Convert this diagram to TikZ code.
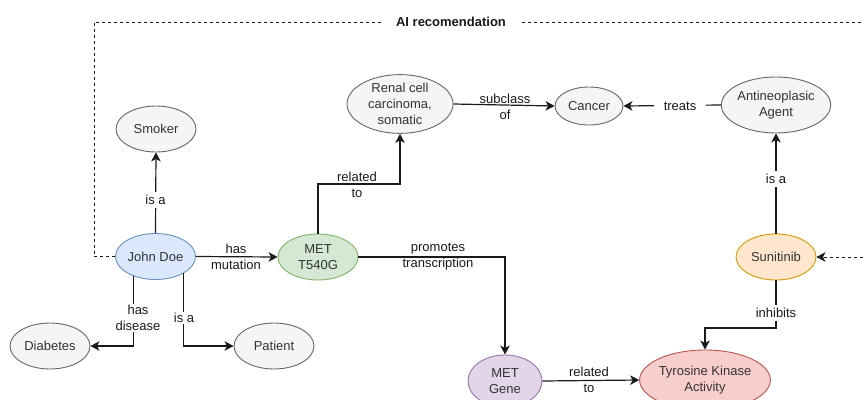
\documentclass[tikz,border=0pt]{standalone}
\usepackage{fontspec}
\setmainfont{Liberation Sans}
\usetikzlibrary{shapes.geometric,arrows.meta}
\definecolor{gfill}{HTML}{F5F5F5}\definecolor{gline}{HTML}{666666}
\definecolor{bfill}{HTML}{DAE8FC}\definecolor{bline}{HTML}{6C8EBF}
\definecolor{grfill}{HTML}{D5E8D4}\definecolor{grline}{HTML}{82B366}
\definecolor{ofill}{HTML}{FFE6CC}\definecolor{oline}{HTML}{D79B00}
\definecolor{pfill}{HTML}{E1D5E7}\definecolor{pline}{HTML}{9673A6}
\definecolor{rfill}{HTML}{F8CECC}\definecolor{rline}{HTML}{B85450}
\definecolor{txt}{HTML}{333333}
\definecolor{edgec}{HTML}{1A1A1A}
\tikzset{
  ell/.style={ellipse,draw=gline,fill=gfill,line width=0.9pt,inner sep=0pt,
    minimum width=80pt,minimum height=46pt,align=center,text=txt,
    font=\fontsize{13}{16}\selectfont},
  lbl/.style={fill=white,inner sep=1pt,align=center,text=edgec,
    font=\fontsize{13}{16}\selectfont},
  lbln/.style={lbl,fill=none},
  rel/.style={draw=edgec,line width=1.2pt,-{Stealth[length=9pt,width=9.5pt,inset=2.5pt]}},
  aidash/.style={draw=edgec,line width=1pt,dash pattern=on 3pt off 3pt,
    -{Stealth[length=9pt,width=9.5pt,inset=2.5pt]}}
}
\begin{document}
\begin{tikzpicture}[x=1pt,y=-1pt]
\useasboundingbox (0,0) rectangle (864,399);
\clip (0,0) rectangle (864,399);
% nodes
\node[ell] (smoker) at (156,129) {Smoker};
\node[ell,fill=bfill,draw=bline] (jd) at (155.5,256.5) {John Doe};
\node[ell,fill=grfill,draw=grline] (met) at (318,257) {MET\\T540G};
\node[ell] (diab) at (50,346) {Diabetes};
\node[ell] (pat) at (274,346) {Patient};
\node[ell,minimum width=106pt,minimum height=56pt] (renal) at (400,104) {Renal cell\\carcinoma,\\somatic};
\node[ell,minimum width=68pt,minimum height=38pt] (cancer) at (589,106) {Cancer};
\node[ell,minimum width=98pt,minimum height=56pt] (anti) at (776,105) {Antineoplasic\\Agent};
\node[ell,fill=ofill,draw=oline] (sun) at (776,257) {Sunitinib};
\node[ell,fill=pfill,draw=pline,minimum width=74pt,minimum height=52pt] (gene) at (505,381) {MET\\Gene};
\node[ell,fill=rfill,draw=rline,minimum width=114pt,minimum height=60pt] (tyr) at (705,380) {Tyrosine Kinase\\Activity};
% edges
\draw[rel] (jd.north) -- (smoker.south);
\draw[rel] (jd.east) -- (met.west);
\draw[rel] (jd.222) |- (diab.east);
\draw[rel] (jd.329) |- (pat.west);
\draw[rel] (met.north) -- (met.north |- 0,184) -| (renal.south);
\draw[rel] (met.east) -| (gene.north);
\draw[rel] (renal.east) -- (cancer.west);
\draw[rel] (anti.west) -- (cancer.east);
\draw[rel] (sun.north) -- (anti.south);
\draw[rel] (sun.south) -- (sun.south |- 0,328) -| (tyr.north);
\draw[rel] (gene.east) -- (tyr.west);
\draw[aidash] (jd.west) -- (94,256.5) -- (94,22) -- (890,22) -- (890,257) -- (sun.east);
% labels
\node[lbl,inner ysep=3pt] (l1) at (155.5,200) {is a};
\node[lbln] (l2) at (236,257) {has\\mutation};
\node[lbl] (l3) at (138,318) {has\\disease};
\node[lbl] (l4) at (184,318) {is a};
\node[lbln] (l5) at (357,185) {related\\to};
\node[lbln] (l6) at (438,257) {promotes\\transcription};
\node[lbln] (l7) at (505,107) {subclass\\of};
\node[lbl,inner xsep=10pt] (l8) at (680,106) {treats};
\node[lbl,inner ysep=3pt] (l9) at (776,179) {is a};
\node[lbl,inner ysep=3pt] (l10) at (776,313) {inhibits};
\node[lbln] (l11) at (589,380) {related\\to};
\node[lbl,font=\fontsize{13}{16}\selectfont\bfseries,inner xsep=13pt] (ai) at (451,22) {AI recomendation};
\end{tikzpicture}
\end{document}
